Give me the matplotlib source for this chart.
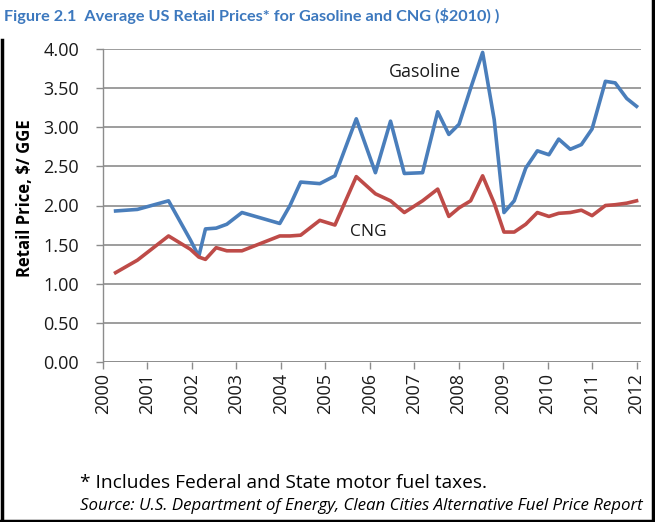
import matplotlib
matplotlib.use("Agg")
import matplotlib.pyplot as plt
from matplotlib.lines import Line2D

plt.rcParams['font.family'] = ['Open Sans', 'DejaVu Sans']

# ---- data ----
dates = [2000.29, 2000.78, 2001.48, 2001.97, 2002.16, 2002.31, 2002.55, 2002.79,
         2003.13, 2003.98, 2004.21, 2004.45, 2004.88, 2005.22, 2005.70, 2006.13,
         2006.47, 2006.78, 2007.19, 2007.53, 2007.78, 2008.01, 2008.27, 2008.54,
         2008.80, 2009.02, 2009.25, 2009.51, 2009.77, 2010.03, 2010.25, 2010.51,
         2010.76, 2011.00, 2011.30, 2011.52, 2011.78, 2012.00]
gasoline = [1.93, 1.95, 2.06, 1.56, 1.35, 1.70, 1.71, 1.76, 1.91, 1.77, 2.00, 2.30,
            2.28, 2.38, 3.11, 2.42, 3.08, 2.41, 2.42, 3.20, 2.91, 3.04, 3.50, 3.96,
            3.10, 1.91, 2.06, 2.48, 2.70, 2.65, 2.85, 2.72, 2.78, 2.98, 3.59, 3.57,
            3.37, 3.27]
cng = [1.14, 1.30, 1.61, 1.44, 1.34, 1.31, 1.46, 1.42, 1.42, 1.61, 1.61, 1.62,
       1.81, 1.75, 2.37, 2.15, 2.06, 1.91, 2.06, 2.21, 1.86, 1.97, 2.06, 2.38,
       2.03, 1.66, 1.66, 1.76, 1.91, 1.86, 1.90, 1.91, 1.94, 1.87, 2.00, 2.01,
       2.03, 2.06]
year_ticks = list(range(2000, 2013))
year_labels = [str(y) for y in year_ticks]
y_ticks = [0.0, 0.5, 1.0, 1.5, 2.0, 2.5, 3.0, 3.5, 4.0]
y_labels = [f"{v:.2f}" for v in y_ticks]

title = "Figure 2.1  Average US Retail Prices* for Gasoline and CNG ($2010) )"
ylabel = "Retail Price, $/ GGE"
footnote = "* Includes Federal and State motor fuel taxes."
source = "Source: U.S. Department of Energy, Clean Cities Alternative Fuel Price Report"

W, H = 655, 522
fig = plt.figure(figsize=(W / 100, H / 100), dpi=100)
ax = fig.add_axes([102.7 / W, 1 - 361.7 / H, (641 - 102.7) / W, (361.7 - 49.3) / H])

grid_c = '#8c8c8c'
ax.set_xlim(2000, 2012.1)
ax.set_ylim(0, 4.0)
ax.set_yticks(y_ticks)
ax.set_yticklabels(y_labels)
ax.set_xticks(year_ticks)
ax.set_xticklabels(year_labels, rotation=90)
ax.yaxis.grid(True, color=grid_c, linewidth=1.2)
ax.set_axisbelow(True)
for s in ['top', 'right', 'bottom']:
    ax.spines[s].set_visible(False)
ax.spines['left'].set_color(grid_c)
ax.spines['left'].set_linewidth(1.0)
ax.axhline(0, color=grid_c, linewidth=1.2, zorder=1)
ax.tick_params(axis='both', colors=grid_c, length=5, width=1.0, labelsize=13,
               labelcolor='#1a1a1a')
ax.tick_params(axis='x', pad=3)
ax.tick_params(axis='y', pad=12)

ax.plot(dates, gasoline, color='#4A7EBB', linewidth=2.6, solid_joinstyle='round', zorder=3)
ax.plot(dates, cng, color='#BE4B48', linewidth=2.6, solid_joinstyle='round', zorder=3)

ax.text(2006.43, 3.71, "Gasoline", fontsize=12.8, color='#1a1a1a', ha='left', va='center')
ax.text(2005.55, 1.66, "CNG", fontsize=12.5, color='#1a1a1a', ha='left', va='center')

fig.text(25 / W, 1 - 198 / H, ylabel, rotation=90, fontsize=12, fontweight='bold',
         ha='center', va='center', color='#000000')
fig.text(4 / W, 1 - 16 / H, title, fontsize=11.7, fontweight='bold', color='#3C78BE',
         family=['Lato', 'DejaVu Sans'], ha='left', va='center')
fig.text(80 / W, 1 - 483 / H, footnote, fontsize=13.8, color='#000000', ha='left', va='center')
fig.text(643 / W, 1 - 506 / H, source, fontsize=12.2, style='italic', color='#000000',
         ha='right', va='center')

# black frame around the figure (left, bottom, right)
fig.add_artist(Line2D([1.5 / W, 1.5 / W], [0, 1 - 40 / H], color='black', linewidth=2.5,
                      transform=fig.transFigure))
fig.add_artist(Line2D([0, 1], [1.2 / H, 1.2 / H], color='black', linewidth=2.5,
                      transform=fig.transFigure))
fig.add_artist(Line2D([1 - 2.5 / W, 1 - 2.5 / W], [0, 1], color='black', linewidth=2.5,
                      transform=fig.transFigure))

fig.savefig("out.png", dpi=100)
